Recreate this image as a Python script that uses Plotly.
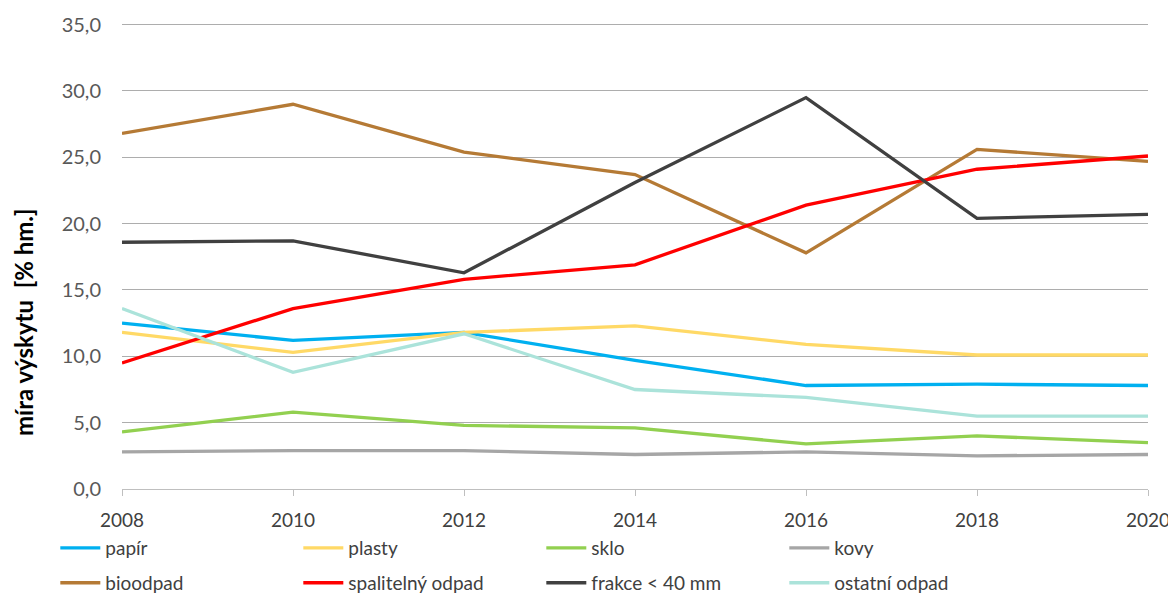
import plotly.graph_objects as go

years = [2008, 2010, 2012, 2014, 2016, 2018, 2020]
papir = [12.5, 11.2, 11.8, 9.7, 7.8, 7.9, 7.8]
plasty = [11.8, 10.3, 11.8, 12.3, 10.9, 10.1, 10.1]
sklo = [4.3, 5.8, 4.8, 4.6, 3.4, 4.0, 3.5]
kovy = [2.8, 2.9, 2.9, 2.6, 2.8, 2.5, 2.6]
bioodpad = [26.8, 29.0, 25.4, 23.7, 17.8, 25.6, 24.7]
spalitelny = [9.5, 13.6, 15.8, 16.9, 21.4, 24.1, 25.1]
frakce = [18.6, 18.7, 16.3, 23.1, 29.5, 20.4, 20.7]
ostatni = [13.6, 8.8, 11.7, 7.5, 6.9, 5.5, 5.5]
y_ticks = [0, 5, 10, 15, 20, 25, 30, 35]

series = [
    ("papír", papir, "#00B0F0", "legend"),
    ("plasty", plasty, "#FFD966", "legend"),
    ("sklo", sklo, "#92D050", "legend"),
    ("kovy", kovy, "#A6A6A6", "legend"),
    ("bioodpad", bioodpad, "#B57A35", "legend2"),
    ("spalitelný odpad", spalitelny, "#FF0000", "legend2"),
    ("frakce < 40 mm", frakce, "#404040", "legend2"),
    ("ostatní odpad", ostatni, "#ABE3DA", "legend2"),
]

fig = go.Figure()
for name, vals, col, leg in series:
    fig.add_trace(go.Scatter(x=years, y=vals, name=name, mode="lines",
                             line=dict(color=col, width=3.3), legend=leg))

font_family = "Lato, 'Open Sans', sans-serif"
W, H = 1168, 588
ML, MR, MT, MB = 114, 28, 14, 107
plot_w = W - ML - MR
plot_h = H - MT - MB

leg_common = dict(orientation="h", x=-0.065, yanchor="top", xanchor="left",
                  entrywidth=188, entrywidthmode="pixels",
                  font=dict(size=19, color="#404040", family=font_family),
                  bgcolor="rgba(0,0,0,0)", itemwidth=40)

fig.update_layout(
    width=W, height=H,
    margin=dict(l=ML, r=MR, t=MT, b=MB, autoexpand=False),
    paper_bgcolor="white", plot_bgcolor="white",
    separators=",.",
    font=dict(family=font_family, size=19, color="#595959"),
    showlegend=True,
    legend=dict(y=-0.0857, **leg_common),
    legend2=dict(y=-0.1604, **leg_common),
    xaxis=dict(range=[2008, 2020], tickvals=years, ticktext=[str(y) for y in years],
               showgrid=False, showline=True, linecolor="#BFBFBF", linewidth=1,
               ticks="outside", ticklen=6, tickcolor="#BFBFBF",
               ticklabelstandoff=8,
               tickfont=dict(size=19, color="#404040"), zeroline=False),
    yaxis=dict(range=[0, 35.2], tickvals=y_ticks,
               tickformat=".1f",
               showgrid=True, gridcolor="#ADADAD", gridwidth=1,
               zeroline=False, showline=False, ticks="",
               ticklabelstandoff=20,
               tickfont=dict(size=20, color="#595959")),
    annotations=[dict(text="<b>míra výskytu  [% hm.]</b>", textangle=-90,
                      xref="paper", yref="paper",
                      x=(15 - ML) / plot_w, y=(481 - 314) / plot_h,
                      xanchor="center", yanchor="middle", showarrow=False,
                      font=dict(size=24, color="#000000", family=font_family))],
)

fig.write_html("out.html")
